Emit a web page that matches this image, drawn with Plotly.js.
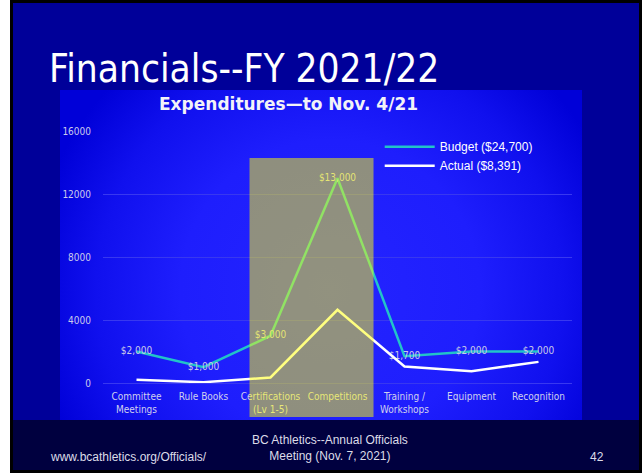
<!DOCTYPE html>
<html><head><meta charset="utf-8">
<script src="https://cdn.plot.ly/plotly-3.0.1.min.js"></script>
<style>
html,body{margin:0;padding:0;background:#ffffff;}
#frame{position:absolute;left:10px;top:0;width:632px;height:473px;background:#000;}
#main{position:absolute;left:13px;top:3px;width:626px;height:417px;background:#000099;}
#foot{position:absolute;left:13px;top:420px;width:626px;height:50px;background:#00003f;}
#panel{position:absolute;left:60px;top:90px;width:522px;height:330px;
 background:radial-gradient(circle 300px at 270px 200px,#2424ff 0%,#1e1efd 50%,#1010ee 78%,#0000d8 100%);}
#chart{position:absolute;left:0;top:0;width:642px;height:473px;}
</style></head>
<body>
<div id="frame"></div><div id="main"></div><div id="foot"></div><div id="panel"></div>
<div id="chart"></div>
<script>
const categories = ["Committee Meetings","Rule Books","Certifications (Lv 1-5)","Competitions","Training / Workshops","Equipment","Recognition"];
const tickLabels = ["Committee<br>Meetings","Rule Books","Certifications<br>(Lv 1-5)","Competitions","Training /<br>Workshops","Equipment","Recognition"];
const budget = [2000,1000,3000,13000,1700,2000,2000];
const actual = [200,50,350,4650,1050,750,1341];
const budgetLabels = ["$2,000","$1,000","$3,000","$13,000","$1,700","$2,000","$2,000"];
const yTicks = [0,4000,8000,12000,16000];

const CF = "DejaVu Sans Condensed, DejaVu Sans, sans-serif";
const AF = "Liberation Sans, Arial, sans-serif";

const traces = [
 {x:categories, y:budget, name:"Budget ($24,700)", type:"scatter", mode:"lines+text",
  line:{color:"#22c4c8", width:2.5}, text:budgetLabels, textposition:"middle center",
  textfont:{family:CF, size:10, color:"#cacae8"}, hoverinfo:"skip"},
 {x:categories, y:actual, name:"Actual ($8,391)", type:"scatter", mode:"lines",
  line:{color:"#ffffff", width:2.5}, hoverinfo:"skip"}
];

const layout = {
 width:642, height:473,
 margin:{l:103, r:70, t:131, b:90},
 paper_bgcolor:"rgba(0,0,0,0)", plot_bgcolor:"rgba(0,0,0,0)",
 showlegend:true,
 legend:{x:0.59, y:0.995, xanchor:"left", yanchor:"top", bgcolor:"rgba(0,0,0,0)",
   font:{family:AF, size:12, color:"#ffffff"}, itemwidth:50, tracegroupgap:0},
 xaxis:{type:"category", range:[-0.5,6.5], tickmode:"array", tickvals:categories, ticktext:tickLabels,
   showgrid:false, showline:false, zeroline:false, ticks:"outside", ticklen:4, tickcolor:"rgba(0,0,0,0)",
   tickfont:{family:CF, size:10, color:"#d0d0ee"}, fixedrange:true},
 yaxis:{range:[0,16000], tickmode:"array", tickvals:yTicks, tickformat:"d",
   showgrid:true, gridcolor:"#3838f0", gridwidth:1, zeroline:true, zerolinecolor:"#3838f0", zerolinewidth:1,
   showline:false, ticks:"outside", ticklen:9, tickcolor:"rgba(0,0,0,0)",
   tickfont:{family:CF, size:10, color:"#cacaec"}, fixedrange:true},
 shapes:[
  {type:"rect", xref:"paper", yref:"paper", x0:0.3124, x1:0.5768, y0:-0.135, y1:0.893,
   fillcolor:"rgba(255,255,0,0.5)", line:{width:0}, layer:"above"}
 ],
 annotations:[
  {text:"Financials--FY 2021/22", xref:"paper", yref:"paper", x:-0.1195, y:1.25, xanchor:"left", yanchor:"middle",
   showarrow:false, font:{family:CF, size:38.5, color:"#ffffff"}},
  {text:"<b>Expenditures\u2014to Nov. 4/21</b>", xref:"paper", yref:"paper", x:0.396, y:1.107, xanchor:"center", yanchor:"middle",
   showarrow:false, font:{family:"DejaVu Sans, sans-serif", size:17, color:"#f2f2f8"}},
  {text:"www.bcathletics.org/Officials/", xref:"paper", yref:"paper", x:-0.1173, y:-0.2937, xanchor:"left", yanchor:"middle",
   showarrow:false, font:{family:AF, size:12, color:"#dcdce8"}},
  {text:"BC Athletics--Annual Officials<br>Meeting (Nov. 7, 2021)", xref:"paper", yref:"paper", x:0.484, y:-0.258, xanchor:"center", yanchor:"middle",
   align:"center", showarrow:false, font:{family:AF, size:12, color:"#dcdce8"}},
  {text:"42", xref:"paper", yref:"paper", x:1.053, y:-0.2937, xanchor:"center", yanchor:"middle",
   showarrow:false, font:{family:AF, size:12, color:"#dcdce8"}}
 ]
};
Plotly.newPlot("chart", traces, layout, {staticPlot:true, displayModeBar:false});
</script>
</body></html>
